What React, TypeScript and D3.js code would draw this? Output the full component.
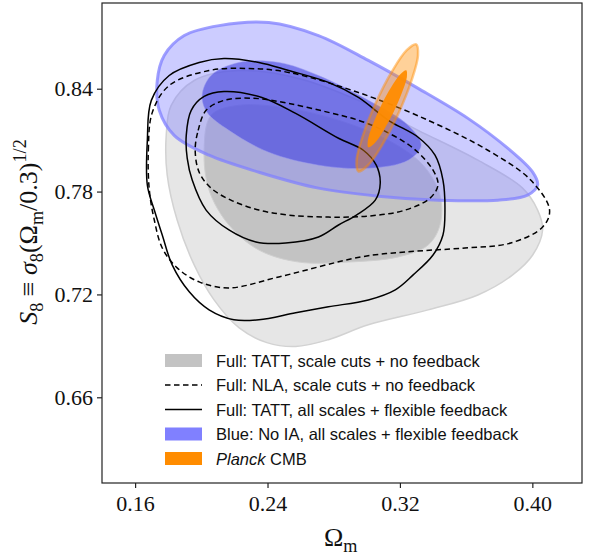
import * as React from "react";
import * as d3 from "d3";

// axis ticks
const omegaTicks = [0.16, 0.24, 0.32, 0.40];
const s8Ticks = [0.66, 0.72, 0.78, 0.84];

// contour outlines, as [Omega_m, S8]
const grayOuter = [
  [0.1788, 0.8128], [0.1794, 0.7896], [0.1854, 0.7634], [0.1957, 0.7372], [0.2077, 0.7168],
  [0.2227, 0.7006], [0.2396, 0.6919], [0.2570, 0.6896], [0.2768, 0.6936], [0.3009, 0.7023],
  [0.3370, 0.7110], [0.3671, 0.7197], [0.3881, 0.7314], [0.4002, 0.7430], [0.4062, 0.7576],
  [0.4032, 0.7692], [0.3941, 0.7820], [0.3671, 0.7983], [0.3310, 0.8157], [0.2949, 0.8332],
  [0.2588, 0.8460], [0.2227, 0.8506], [0.1957, 0.8448], [0.1818, 0.8303],
];
const grayInner = [
  [0.2017, 0.8041], [0.2059, 0.8245], [0.2227, 0.8303], [0.2528, 0.8285], [0.2829, 0.8216],
  [0.3130, 0.8099], [0.3340, 0.7954], [0.3442, 0.7779], [0.3442, 0.7605], [0.3370, 0.7488],
  [0.3190, 0.7419], [0.2889, 0.7389], [0.2588, 0.7389], [0.2348, 0.7459], [0.2167, 0.7605],
  [0.2047, 0.7808],
];
const blueOuter = [
  [0.1734, 0.8448], [0.1776, 0.8594], [0.1897, 0.8710], [0.2107, 0.8768], [0.2408, 0.8786],
  [0.2708, 0.8710], [0.3009, 0.8565], [0.3310, 0.8402], [0.3611, 0.8227], [0.3851, 0.8053],
  [0.4002, 0.7913], [0.4032, 0.7838], [0.3971, 0.7779], [0.3791, 0.7750], [0.3430, 0.7750],
  [0.3069, 0.7773], [0.2708, 0.7820], [0.2348, 0.7913], [0.2047, 0.8012], [0.1836, 0.8128],
  [0.1746, 0.8274],
];
const blueInner = [
  [0.2005, 0.8361], [0.2059, 0.8477], [0.2227, 0.8553], [0.2468, 0.8553], [0.2708, 0.8477],
  [0.3009, 0.8332], [0.3250, 0.8186], [0.3328, 0.8070], [0.3250, 0.7983], [0.3009, 0.7936],
  [0.2708, 0.7954], [0.2408, 0.8029], [0.2167, 0.8157], [0.2035, 0.8262],
];
const solidOuter = [
  [0.1674, 0.7838], [0.1674, 0.8099], [0.1698, 0.8332], [0.1806, 0.8477], [0.1987, 0.8553],
  [0.2137, 0.8576], [0.2348, 0.8553], [0.2528, 0.8506], [0.2768, 0.8437], [0.2949, 0.8349],
  [0.3130, 0.8216], [0.3310, 0.8117], [0.3412, 0.8012], [0.3460, 0.7867], [0.3472, 0.7692],
  [0.3460, 0.7547], [0.3400, 0.7430], [0.3280, 0.7314], [0.3172, 0.7227], [0.3009, 0.7168],
  [0.2768, 0.7128], [0.2570, 0.7093], [0.2348, 0.7052], [0.2197, 0.7052], [0.2047, 0.7110],
  [0.1927, 0.7215], [0.1824, 0.7372], [0.1764, 0.7547], [0.1716, 0.7692],
];
const solidInner = [
  [0.1909, 0.8128], [0.1939, 0.8274], [0.2017, 0.8355], [0.2137, 0.8384], [0.2366, 0.8349],
  [0.2570, 0.8256], [0.2829, 0.8111], [0.2979, 0.8041], [0.3057, 0.7954], [0.3081, 0.7849],
  [0.3051, 0.7750], [0.2937, 0.7663], [0.2829, 0.7605], [0.2708, 0.7535], [0.2510, 0.7500],
  [0.2330, 0.7506], [0.2167, 0.7576], [0.2029, 0.7692], [0.1945, 0.7867], [0.1915, 0.7994],
];
const dashedOuter = [
  [0.1686, 0.7808], [0.1680, 0.8041], [0.1704, 0.8262], [0.1806, 0.8419], [0.2047, 0.8506],
  [0.2288, 0.8518], [0.2528, 0.8495], [0.2949, 0.8378], [0.3370, 0.8216], [0.3731, 0.8041],
  [0.3990, 0.7867], [0.4104, 0.7692], [0.4062, 0.7593], [0.3869, 0.7500], [0.3593, 0.7471],
  [0.3232, 0.7448], [0.2967, 0.7419], [0.2468, 0.7302], [0.2167, 0.7238], [0.1987, 0.7273],
  [0.1854, 0.7355], [0.1764, 0.7471], [0.1716, 0.7634],
];
const dashedInner = [
  [0.1963, 0.8041], [0.1981, 0.8157], [0.2029, 0.8274], [0.2137, 0.8332], [0.2318, 0.8344],
  [0.2528, 0.8314], [0.2768, 0.8262], [0.2949, 0.8216], [0.3099, 0.8157], [0.3280, 0.8053],
  [0.3400, 0.7925], [0.3430, 0.7838], [0.3382, 0.7762], [0.3232, 0.7692], [0.3009, 0.7657],
  [0.2768, 0.7651], [0.2528, 0.7663], [0.2348, 0.7692], [0.2179, 0.7750], [0.2059, 0.7820],
  [0.1987, 0.7913],
];
const planckOuter = [
  [0.3298, 0.8659], [0.3309, 0.8594], [0.3270, 0.8448], [0.3192, 0.8258], [0.3096, 0.8077],
  [0.3006, 0.7952], [0.2949, 0.7918], [0.2938, 0.7982], [0.2977, 0.8129], [0.3055, 0.8319],
  [0.3151, 0.8499], [0.3241, 0.8625],
];
const planckInner = [
  [0.3238, 0.8507], [0.3242, 0.8468], [0.3213, 0.8379], [0.3162, 0.8264], [0.3099, 0.8154],
  [0.3044, 0.8079], [0.3009, 0.8058], [0.3006, 0.8097], [0.3034, 0.8186], [0.3086, 0.8301],
  [0.3148, 0.8410], [0.3204, 0.8486],
];

const legendLabels = [
  "Full: TATT, scale cuts + no feedback",
  "Full: NLA, scale cuts + no feedback",
  "Full: TATT, all scales + flexible feedback",
  "Blue: No IA, all scales + flexible feedback",
  "Planck CMB",
];

const SERIF = "'Liberation Serif', 'DejaVu Serif', serif";
const SANS = "'Liberation Sans', 'DejaVu Sans', sans-serif";

function mathText(el, parts, size) {
  // parts: [text, italic, shift] shift: 0 | -1 sub | 1 sup
  let prev = 0;
  parts.forEach(([t, it, shift]) => {
    const small = shift !== 0;
    const target = shift === -1 ? 0.22 * size : shift === 1 ? -0.42 * size : 0;
    el.append("tspan")
      .attr("dy", target - prev)
      .attr("font-style", it ? "italic" : "normal")
      .attr("font-size", small ? size * 0.7 : size)
      .text(t);
    prev = target;
  });
}

function drawChart(svgRef) {
  const width = 589;
  const height = 556;
  const margin = { top: 3, right: 7, bottom: 73, left: 102 };

  const x = d3.scaleLinear().domain([0.14, 0.43]).range([margin.left, width - margin.right]);
  const y = d3.scaleLinear().domain([0.61, 0.89]).range([height - margin.bottom, margin.top]);

  const svg = d3.select(svgRef.current).attr("width", width).attr("height", height);
  svg.selectAll("*").remove();

  svg.append("defs").append("clipPath").attr("id", "plotclip")
    .append("rect")
    .attr("x", margin.left).attr("y", margin.top)
    .attr("width", width - margin.left - margin.right)
    .attr("height", height - margin.top - margin.bottom);

  const shape = d3.line()
    .x(d => x(d[0]))
    .y(d => y(d[1]))
    .curve(d3.curveCatmullRomClosed.alpha(0.5));

  const g = svg.append("g").attr("clip-path", "url(#plotclip)");

  // Full TATT scale cuts (grey filled)
  g.append("path").attr("d", shape(grayOuter))
    .attr("fill", "#e6e6e6").attr("stroke", "#d2d2d2").attr("stroke-width", 1.5);
  g.append("path").attr("d", shape(grayInner))
    .attr("fill", "#c3c3c3").attr("stroke", "#cfcfcf").attr("stroke-width", 1);

  // blue, no IA
  g.append("path").attr("d", shape(blueOuter))
    .attr("fill", "#8080ff").attr("fill-opacity", 0.4)
    .attr("stroke", "#8080ff").attr("stroke-opacity", 0.75).attr("stroke-width", 3);
  g.append("path").attr("d", shape(blueInner))
    .attr("fill", "#4343e0").attr("fill-opacity", 0.6)
    .attr("stroke", "#9a9af0").attr("stroke-opacity", 0.5).attr("stroke-width", 1);

  // black contours
  [solidOuter, solidInner].forEach(c => {
    g.append("path").attr("d", shape(c))
      .attr("fill", "none").attr("stroke", "#000").attr("stroke-width", 1.5);
  });
  [dashedOuter, dashedInner].forEach(c => {
    g.append("path").attr("d", shape(c))
      .attr("fill", "none").attr("stroke", "#000").attr("stroke-width", 1.5)
      .attr("stroke-dasharray", "5.5,3.5");
  });

  // Planck
  g.append("path").attr("d", shape(planckOuter))
    .attr("fill", "#ff8c00").attr("fill-opacity", 0.4)
    .attr("stroke", "#ff8c00").attr("stroke-opacity", 0.45).attr("stroke-width", 2.5);
  g.append("path").attr("d", shape(planckInner))
    .attr("fill", "#ff8c00").attr("fill-opacity", 0.95);

  // axes
  const xAxis = svg.append("g")
    .attr("transform", `translate(0,${height - margin.bottom})`)
    .call(d3.axisBottom(x).tickValues(omegaTicks).tickFormat(d3.format(".2f")).tickSize(5).tickPadding(7));
  const yAxis = svg.append("g")
    .attr("transform", `translate(${margin.left},0)`)
    .call(d3.axisLeft(y).tickValues(s8Ticks).tickFormat(d3.format(".2f")).tickSize(5).tickPadding(4));
  [xAxis, yAxis].forEach(a => {
    a.select(".domain").remove();
    a.selectAll("line").attr("stroke", "#222").attr("stroke-width", 1.2);
    a.selectAll("text").attr("font-family", SERIF).attr("font-size", 22).attr("fill", "#111");
  });

  svg.append("rect")
    .attr("x", margin.left).attr("y", margin.top)
    .attr("width", width - margin.left - margin.right)
    .attr("height", height - margin.top - margin.bottom)
    .attr("fill", "none").attr("stroke", "#222").attr("stroke-width", 1.2);

  // axis labels
  const xl = svg.append("text")
    .attr("x", (margin.left + width - margin.right) / 2 - 18)
    .attr("y", 546)
    .attr("font-family", SERIF).attr("fill", "#111");
  mathText(xl, [["Ω", false, 0], ["m", false, -1]], 26);

  const yl = svg.append("text")
    .attr("transform", `translate(37,232) rotate(-90)`)
    .attr("text-anchor", "middle")
    .attr("font-family", SERIF).attr("fill", "#111");
  mathText(yl, [
    ["S", true, 0], ["8", false, -1], [" ≡ ", false, 0], ["σ", true, 0], ["8", false, -1],
    ["(Ω", false, 0], ["m", false, -1], ["/0.3)", false, 0], ["1/2", false, 1],
  ], 26);

  // legend
  const lg = svg.append("g").attr("font-family", SANS).attr("font-size", 16.5).attr("fill", "#111");
  const rowY = d3.scalePoint().domain(d3.range(legendLabels.length)).range([360.5, 458.5]);
  legendLabels.forEach((lab, i) => {
    const cy = rowY(i);
    if (i === 0 || i === 3 || i === 4) {
      const col = i === 0 ? "#c3c3c3" : i === 3 ? "#8080ff" : "#ff8c00";
      lg.append("rect").attr("x", 165).attr("y", cy - 6.5).attr("width", 37).attr("height", 13).attr("fill", col);
    } else {
      lg.append("line").attr("x1", 165).attr("x2", 202).attr("y1", cy).attr("y2", cy)
        .attr("stroke", "#000").attr("stroke-width", 1.5)
        .attr("stroke-dasharray", i === 1 ? "5.5,3.5" : null);
    }
    const t = lg.append("text").attr("x", 216).attr("y", cy + 6);
    if (lab.startsWith("Planck")) {
      t.append("tspan").attr("font-style", "italic").text("Planck");
      t.append("tspan").text(lab.slice(6));
    } else {
      t.text(lab);
    }
  });
}

const App = () => {
  const svgRef = React.useRef(null);

  React.useEffect(() => {
    drawChart(svgRef);
  }, [svgRef]);

  return (
    <svg ref={svgRef} style={{ position: "absolute", left: 0, top: 0, background: "#fff" }} />
  );
};

export default App;
